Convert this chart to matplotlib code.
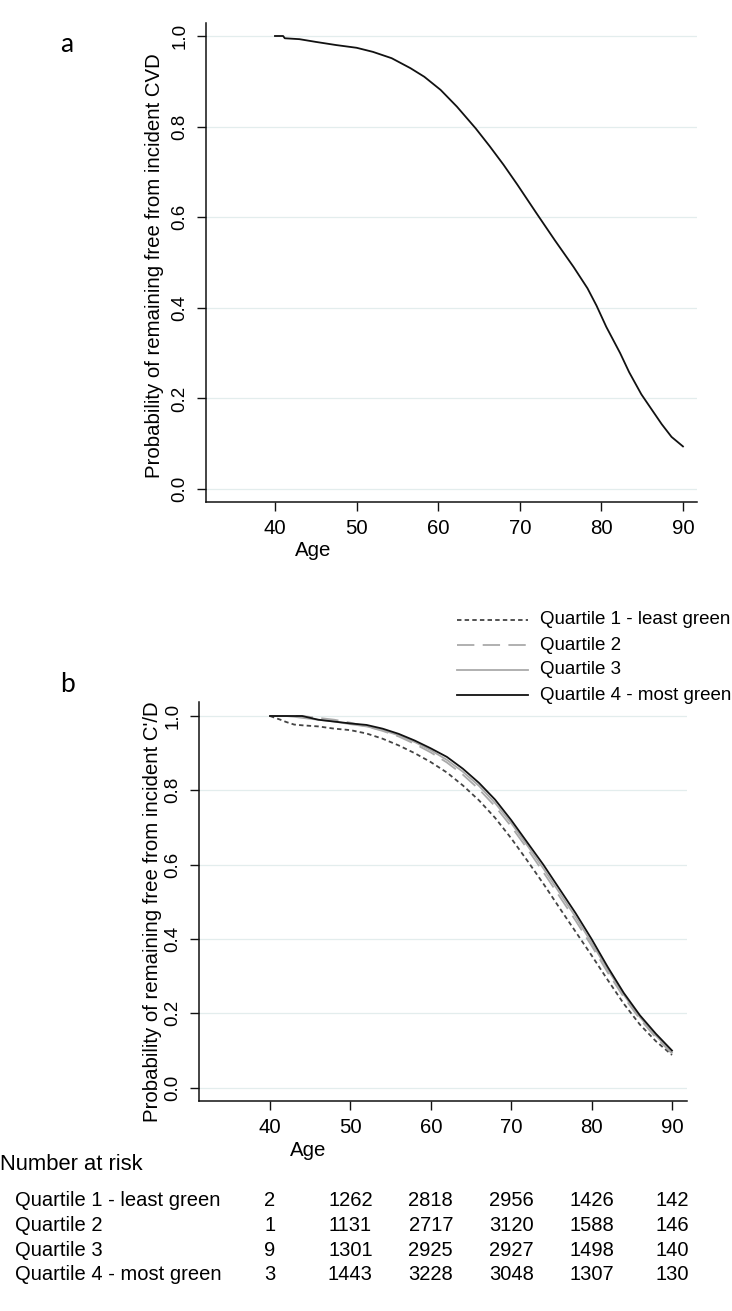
import matplotlib
matplotlib.use('Agg')
import matplotlib.pyplot as plt
from matplotlib.lines import Line2D
from matplotlib.transforms import blended_transform_factory

plt.rcParams['font.family'] = ['Liberation Sans', 'DejaVu Sans']
plt.rcParams['lines.scale_dashes'] = False

# ---------------- data ----------------
ages_a = [40, 41, 41.2, 43, 45, 47.5, 50, 52, 54.3, 56.6, 58.3, 60.3, 62.3, 64.6, 66.3, 68,
          69.7, 72, 74.3, 76.6, 78.3, 79.4, 80.6, 82.3, 83.4, 84.9, 86.3, 87.4, 88.6, 90]
surv_a = [1.0, 1.0, 0.995, 0.993, 0.987, 0.980, 0.974, 0.965, 0.951, 0.929, 0.910, 0.881,
          0.844, 0.796, 0.757, 0.716, 0.672, 0.610, 0.549, 0.490, 0.443, 0.405, 0.358, 0.300,
          0.258, 0.209, 0.172, 0.143, 0.115, 0.094]

ages_b = [40, 41.3, 42, 43, 44, 46, 48, 50, 52, 54, 56, 58, 60, 62, 64, 66, 68, 70, 72, 74,
          76, 78, 80, 82, 84, 86, 88, 90]
q1_surv = [1.0, 0.99, 0.984, 0.977, 0.975, 0.972, 0.966, 0.962, 0.953, 0.939, 0.921, 0.900,
           0.876, 0.848, 0.813, 0.773, 0.726, 0.671, 0.611, 0.549, 0.484, 0.420, 0.356, 0.290,
           0.226, 0.170, 0.125, 0.088]
q2_surv = [1.0, 1.0, 1.0, 1.0, 1.0, 0.995, 0.990, 0.982, 0.972, 0.960, 0.945, 0.925, 0.902,
           0.875, 0.842, 0.803, 0.757, 0.703, 0.643, 0.580, 0.515, 0.450, 0.382, 0.310, 0.244,
           0.185, 0.135, 0.092]
q3_surv = [1.0, 1.0, 1.0, 0.998, 0.995, 0.990, 0.985, 0.978, 0.972, 0.962, 0.948, 0.930,
           0.908, 0.882, 0.850, 0.812, 0.766, 0.712, 0.652, 0.590, 0.525, 0.460, 0.390, 0.318,
           0.250, 0.190, 0.140, 0.095]
q4_surv = [1.0, 1.0, 1.0, 1.0, 1.0, 0.990, 0.985, 0.980, 0.976, 0.966, 0.952, 0.934, 0.913,
           0.890, 0.858, 0.820, 0.775, 0.720, 0.660, 0.600, 0.535, 0.470, 0.400, 0.325, 0.255,
           0.195, 0.145, 0.100]

group_labels = ['Quartile 1 - least green', 'Quartile 2', 'Quartile 3', 'Quartile 4 - most green']
risk_ages = [40, 50, 60, 70, 80, 90]
risk_q1 = [2, 1262, 2818, 2956, 1426, 142]
risk_q2 = [1, 1131, 2717, 3120, 1588, 146]
risk_q3 = [9, 1301, 2925, 2927, 1498, 140]
risk_q4 = [3, 1443, 3228, 3048, 1307, 130]

xticks = [40, 50, 60, 70, 80, 90]
yticks = [0.0, 0.2, 0.4, 0.6, 0.8, 1.0]
ytick_labels = ['0.0', '0.2', '0.4', '0.6', '0.8', '1.0']

# ---------------- figure ----------------
W, H = 732, 1311
fig = plt.figure(figsize=(W / 100, H / 100), dpi=100)


def px_axes(l, t, r, b):
    return fig.add_axes([l / W, 1 - b / H, (r - l) / W, (b - t) / H])


def fx(x):
    return x / W


def fy(y):
    return 1 - y / H


ax1 = px_axes(205.7, 23, 697, 502)
ax2 = px_axes(199, 701.7, 686.7, 1101)

styles = [
    dict(color='#444444', lw=1.3, dashes=(3.2, 2.3)),
    dict(color='#aaaaaa', lw=1.3, dashes=(12.5, 6.0)),
    dict(color='#aaaaaa', lw=1.3, linestyle='-'),
    dict(color='#111111', lw=1.3, linestyle='-'),
]


def style_axes(ax, xlim, ylim):
    for s in ['top', 'right']:
        ax.spines[s].set_visible(False)
    for s in ['left', 'bottom']:
        ax.spines[s].set_linewidth(1.1)
        ax.spines[s].set_color('#111111')
    ax.set_xlim(*xlim)
    ax.set_ylim(*ylim)
    ax.set_xticks(xticks)
    ax.set_xticklabels([str(t) for t in xticks])
    ax.set_yticks(yticks)
    ax.set_yticklabels(ytick_labels)
    ax.tick_params(axis='both', direction='out', length=6.5, width=1.0, color='#111111')
    ax.tick_params(axis='x', labelsize=14.7, pad=6)
    ax.tick_params(axis='y', labelsize=13.5, pad=6, labelrotation=90)
    for lab in ax.get_yticklabels():
        lab.set_va('center')
    ax.yaxis.grid(True, color='#e3eded', lw=0.9)
    ax.set_axisbelow(True)


# Panel a
style_axes(ax1, (31.51, 91.72), (-0.0287, 1.0287))
ax1.plot(ages_a, surv_a, color='#111111', lw=1.3)
fig.text(fx(155), fy(266), 'Probability of remaining free from incident CVD',
         rotation=90, ha='center', va='center', fontsize=14.7)
fig.text(fx(313), fy(550), 'Age', ha='center', va='center', fontsize=14.7)
fig.text(fx(67), fy(45), 'a', ha='center', va='center', fontsize=19,
         family=['Lato', 'DejaVu Sans'])

# Panel b
style_axes(ax2, (31.17, 91.83), (-0.0358, 1.0385))
series = [q1_surv, q2_surv, q3_surv, q4_surv]
for s, st in zip(series, styles):
    ax2.plot(ages_b, s, **st)
fig.text(fx(152.5), fy(912), "Probability of remaining free from incident C'/D",
         rotation=90, ha='center', va='center', fontsize=14.7)
fig.text(fx(308), fy(1150), 'Age', ha='center', va='center', fontsize=14.7)
fig.text(fx(67), fy(685), 'b', ha='center', va='center', fontsize=19,
         family=['Lato', 'DejaVu Sans'])

# Legend (manual, in figure pixels)
for i, (lab, st) in enumerate(zip(group_labels, styles)):
    y = 620 + 25 * i
    ln = Line2D([fx(457), fx(528)], [fy(y), fy(y)], transform=fig.transFigure, **st)
    fig.add_artist(ln)
    fig.text(fx(540), fy(y), lab, ha='left', va='center', fontsize=13.5)

# Number at risk table
fig.text(fx(0), fy(1165), 'Number at risk', ha='left', va='center', fontsize=15.8)
trans = blended_transform_factory(ax2.transData, fig.transFigure)
risk_rows = [risk_q1, risk_q2, risk_q3, risk_q4]
for i, (lab, row) in enumerate(zip(group_labels, risk_rows)):
    y = 1201 + 24.6 * i
    fig.text(fx(15), fy(y), lab, ha='left', va='center', fontsize=14.5)
    for a, n in zip(risk_ages, row):
        ax2.text(a, fy(y), str(n), transform=trans, ha='center', va='center',
                 fontsize=14.5, clip_on=False)

fig.savefig('out.png', dpi=100, facecolor='white')
